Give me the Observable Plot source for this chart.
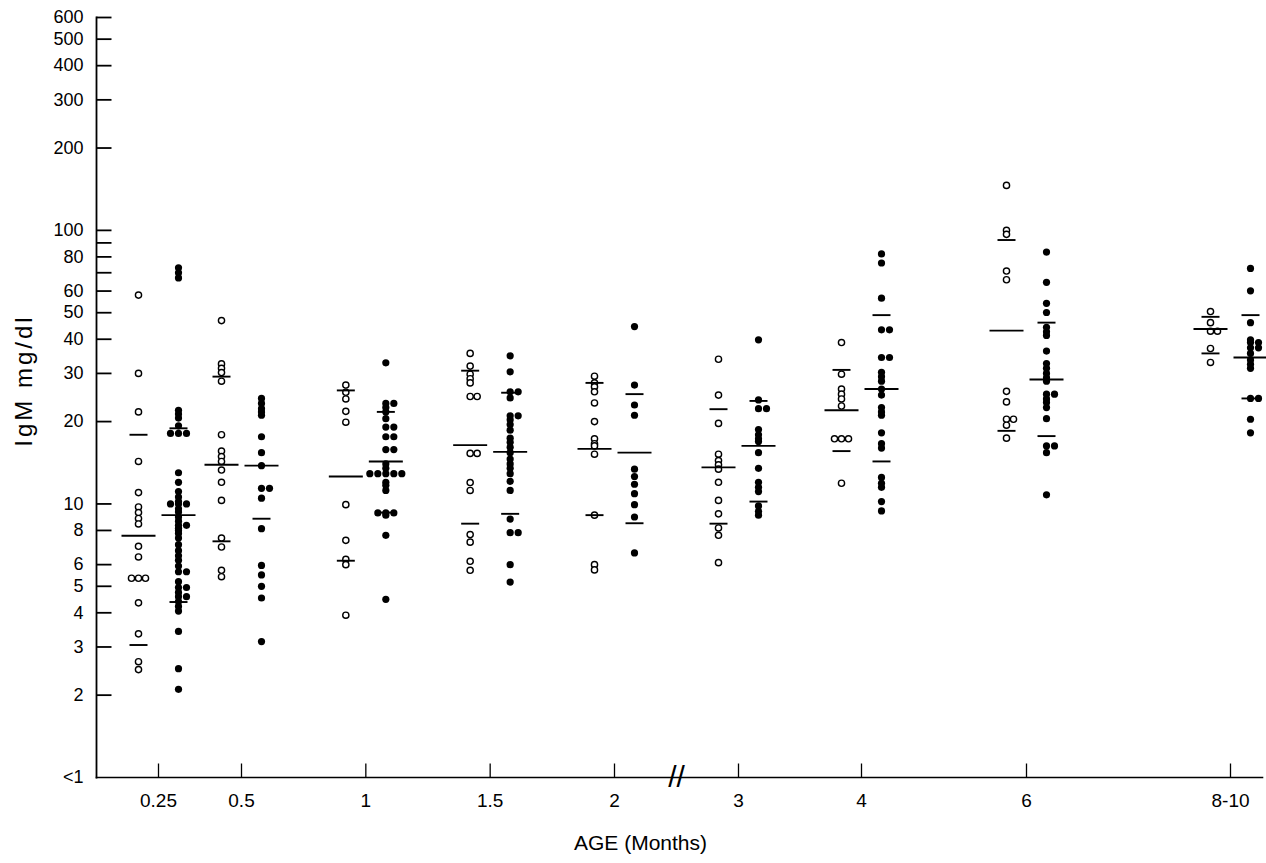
<!DOCTYPE html>
<html>
<head>
<meta charset="utf-8">
<script src="https://cdn.jsdelivr.net/npm/d3@7"></script>
<script src="https://cdn.jsdelivr.net/npm/@observablehq/plot@0.6"></script>
<style>
  body { margin: 0; background: #fff; }
  svg { display: block; }
</style>
</head>
<body>
<div id="chart"></div>
<script>
// ---- data ----
const ageLabels = ["0.25", "0.5", "1", "1.5", "2", "3", "4", "6", "8-10"];
const ageMonths = [0.25, 0.5, 1, 1.5, 2, 3, 4, 6, 9];
const axisBreakAt = 2.5;

const yTickValues = [600, 500, 400, 300, 200, 100, 90, 80, 70, 60, 50, 40, 30, 20, 10, 8, 6, 5, 4, 3, 2, 1];
const yTickLabels = ["600", "500", "400", "300", "200", "100", "", "80", "", "60", "50", "40", "30", "20", "10", "8", "6", "5", "4", "3", "2", "<1"];

// open circles (left column of each age)
const openValues = [
  [58, 30, 21.7, 14.3, 11.0, 9.75, 9.3, 8.85, 8.45, 7.0, 6.4, 5.35, 5.35, 5.35, 4.35, 3.35, 2.65, 2.48],
  [46.8, 32.5, 31.3, 30.2, 28.1, 17.9, 15.6, 14.9, 14.3, 13.3, 12.0, 10.3, 7.5, 6.96, 5.72, 5.42],
  [27.2, 25.6, 24.2, 21.8, 19.9, 9.94, 7.36, 6.27, 6.0, 3.92],
  [35.5, 31.9, 29.8, 28.7, 27.7, 24.7, 24.7, 15.3, 15.3, 11.97, 11.2, 7.73, 7.25, 6.17, 5.72],
  [29.3, 27.7, 26.8, 25.7, 23.4, 20.0, 17.3, 16.6, 16.3, 15.2, 9.1, 6.0, 5.74],
  [33.8, 25.0, 19.7, 15.2, 14.4, 13.9, 13.4, 12.0, 10.3, 9.2, 8.17, 7.68, 6.1],
  [38.9, 29.8, 26.3, 25.2, 24.2, 22.8, 17.3, 17.3, 17.3, 11.9],
  [146, 100, 96.7, 71, 66, 25.8, 23.6, 20.4, 20.4, 19.4, 17.4],
  [50.5, 46.0, 42.8, 42.8, 37.0, 32.9]
];
// filled circles (right column of each age)
const filledValues = [
  [73, 70, 67, 22, 21.3, 20.6, 19.3, 18.1, 18.1, 18.1, 13.0, 12.0, 11.1, 10.6, 10.2, 10.0, 10.0, 10.0, 9.6, 9.35, 8.95, 8.65, 8.35, 8.35, 8.15, 8.0, 7.8, 7.5, 7.1, 6.75, 6.46, 6.22, 5.93, 5.65, 5.65, 5.2, 4.95, 4.95, 4.75, 4.58, 4.58, 4.4, 4.22, 4.06, 3.42, 2.5, 2.1],
  [24.3, 23.3, 22.3, 21.7, 21.1, 17.6, 15.4, 13.8, 11.4, 11.4, 10.5, 8.12, 5.96, 5.5, 5.0, 4.53, 3.14],
  [32.8, 23.3, 23.3, 22.5, 21.7, 20.5, 19.1, 19.1, 17.6, 17.6, 15.8, 15.8, 14.0, 13.5, 12.9, 12.9, 12.9, 12.9, 12.9, 12.0, 11.7, 11.2, 9.27, 9.27, 9.27, 9.1, 7.68, 4.48],
  [34.8, 30.4, 25.7, 25.7, 24.4, 21.0, 21.0, 20.3, 19.5, 18.6, 17.4, 16.8, 16.1, 15.4, 14.6, 14.0, 13.5, 12.9, 12.1, 11.2, 8.8, 7.85, 7.85, 6.0, 5.18],
  [44.5, 27.2, 23.0, 21.1, 13.4, 12.6, 11.8, 10.9, 9.94, 8.96, 6.62],
  [39.8, 24.0, 22.3, 22.3, 18.7, 17.9, 17.3, 16.9, 15.4, 13.5, 12.0, 11.5, 11.1, 9.83, 9.4, 9.1],
  [82, 76, 56.5, 43.3, 43.3, 34.3, 34.3, 30.3, 29.2, 28.1, 26.3, 25.0, 22.5, 21.7, 21.1, 18.2, 16.6, 16.0, 12.5, 11.9, 11.5, 10.2, 9.43],
  [83.3, 64.6, 54.1, 50.1, 44.2, 42.6, 41.3, 36.2, 32.6, 31.3, 30.0, 28.9, 28.1, 25.2, 25.2, 24.2, 23.5, 22.5, 20.5, 16.3, 16.3, 15.4, 10.8],
  [72.6, 60.1, 46.0, 39.8, 38.9, 38.9, 37.2, 37.2, 35.5, 33.6, 32.4, 31.3, 24.3, 24.3, 20.4, 18.2]
];
// long bars (central value) and short bars (upper/lower limits)
const openCenter   = [7.65, 13.9, 12.6, 16.4, 15.9, 13.6, 22.0, 43.0, 43.6];
const openLimits   = [[17.9, 3.05], [29.2, 7.3], [26.0, 6.2], [30.7, 8.47], [27.7, 9.1], [22.2, 8.47], [30.9, 15.6], [92.2, 18.5], [48.3, 35.5]];
const filledCenter = [9.1, 13.8, 14.3, 15.5, 15.4, 16.3, 26.3, 28.5, 34.3];
const filledLimits = [[18.9, 4.38], [8.83], [21.7, 9.3], [25.5, 9.2], [25.2, 8.5], [23.8, 10.2], [49.0, 14.3], [46.0, 17.7], [49.0, 24.3]];

// ---- build tables ----
const slotOrder = [0, 1, -1, 2, -2, 3, -3];
function dodgeSlots(values) {
  const order = values.map((v, i) => i).sort((a, b) => values[b] - values[a]);
  const placed = [], slots = new Array(values.length);
  for (const i of order) {
    const lv = Math.log10(values[i]);
    for (const s of slotOrder) {
      if (!placed.some(p => p.s === s && Math.abs(p.lv - lv) < 0.006)) {
        slots[i] = s; placed.push({s, lv}); break;
      }
    }
  }
  return slots;
}
function pointsOf(series, table) {
  const out = [];
  table.forEach((vals, i) => {
    const slots = dodgeSlots(vals);
    vals.forEach((v, j) => out.push({series, age: ageMonths[i], value: v, slot: slots[j]}));
  });
  return out;
}
const openPts = pointsOf("open", openValues);
const filledPts = pointsOf("filled", filledValues);
const barsOf = (center, limits) => ({
  long: center.map((v, i) => ({age: ageMonths[i], value: v})),
  short: limits.flatMap((arr, i) => arr.map(v => ({age: ageMonths[i], value: v})))
});
const openBars = barsOf(openCenter, openLimits);
const filledBars = barsOf(filledCenter, filledLimits);

// custom symbols: a horizontal and a vertical stroke
const hline = {draw(ctx, size) { const w = Math.sqrt(size / Math.PI); ctx.moveTo(-w, 0); ctx.lineTo(w, 0); }};
const vline = {draw(ctx, size) { const h = Math.sqrt(size / Math.PI); ctx.moveTo(0, -h); ctx.lineTo(0, h); }};

const OFFSET = 20;
const dotMarks = [];
for (const s of slotOrder) {
  const o = openPts.filter(d => d.slot === s);
  if (o.length) dotMarks.push(Plot.dot(o, {x: "age", y: "value", dx: -OFFSET + s * 7, r: 3.1, fill: "white", stroke: "black", strokeWidth: 1.4}));
  const f = filledPts.filter(d => d.slot === s);
  if (f.length) dotMarks.push(Plot.dot(f, {x: "age", y: "value", dx: OFFSET + s * 8, r: 3.6, fill: "black", stroke: "none"}));
}
const barStyle = {x: "age", y: "value", symbol: hline, fill: "none", stroke: "black", strokeWidth: 1.9};
const labelOf = new Map(ageMonths.map((m, i) => [m, ageLabels[i]]));
const yLabelOf = new Map(yTickValues.map((v, i) => [v, yTickLabels[i]]));

const chart = Plot.plot({
  width: 1266,
  height: 863,
  marginLeft: 96,
  marginRight: 4,
  marginTop: 17,
  marginBottom: 86,
  style: {fontFamily: "'Liberation Sans', Arial, Helvetica, sans-serif", fontSize: "18px", background: "white", color: "black"},
  x: {type: "linear", domain: [0.25, 0.5, 2, 3, 4, 6, 9], range: [158, 241, 614, 738, 861, 1026, 1230], axis: null},
  y: {type: "log", domain: [1, 600], axis: null},
  marks: [
    Plot.frame({anchor: "left", stroke: "black", strokeWidth: 1.8}),
    Plot.frame({anchor: "bottom", stroke: "black", strokeWidth: 1.6}),
    // y ticks pointing inward, labels on the left
    Plot.dot(yTickValues.filter(v => v > 1), {y: d => d, frameAnchor: "left", symbol: hline, r: 7.5, dx: 7.5, fill: "none", stroke: "black", strokeWidth: 1.8}),
    Plot.text(yTickValues, {y: d => d, text: d => yLabelOf.get(d), frameAnchor: "left", textAnchor: "end", lineAnchor: "middle", dx: -13, fontSize: 18, fill: "black"}),
    // x ticks pointing upward, labels below
    Plot.dot(ageMonths, {x: d => d, frameAnchor: "bottom", symbol: vline, r: 7, dy: -7, fill: "none", stroke: "black", strokeWidth: 1.3}),
    Plot.text(ageMonths, {x: d => d, text: d => labelOf.get(d), frameAnchor: "bottom", textAnchor: "middle", lineAnchor: "middle", dy: 23, fontSize: 19, fill: "black"}),
    Plot.text([axisBreakAt], {x: d => d, text: () => "//", frameAnchor: "bottom", textAnchor: "middle", lineAnchor: "middle", fontSize: 30, fill: "black"}),
    Plot.text(["IgM mg/dl"], {frameAnchor: "left", textAnchor: "middle", lineAnchor: "middle", rotate: -90, dx: -72, dy: -17, fontSize: 24, fill: "black"}),
    Plot.text(["AGE (Months)"], {frameAnchor: "bottom", textAnchor: "middle", lineAnchor: "middle", dx: -39, dy: 66, fontSize: 21, fill: "black"}),
    ...dotMarks,
    Plot.dot(openBars.long,   {...barStyle, r: 17, dx: -OFFSET}),
    Plot.dot(openBars.short,  {...barStyle, r: 9,  dx: -OFFSET}),
    Plot.dot(filledBars.long, {...barStyle, r: 17, dx: OFFSET}),
    Plot.dot(filledBars.short,{...barStyle, r: 9,  dx: OFFSET})
  ]
});
// spaced lettering of the y-axis title, as in the original
d3.select(chart).selectAll("text").filter(function() { return this.textContent === "IgM mg/dl"; }).style("letter-spacing", "3px");
document.getElementById("chart").appendChild(chart);
</script>
</body>
</html>
